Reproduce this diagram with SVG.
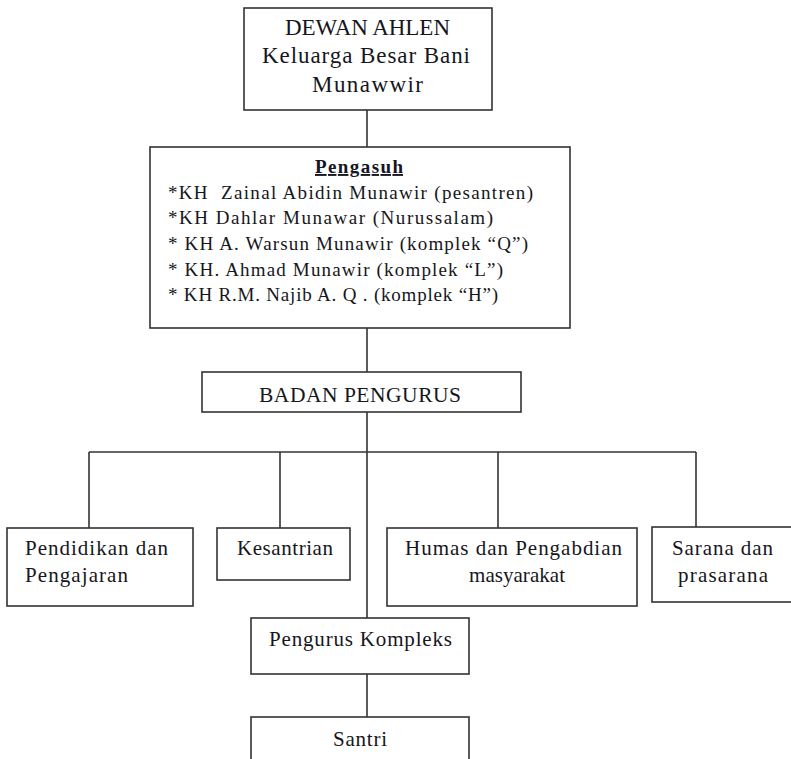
<svg xmlns="http://www.w3.org/2000/svg" width="791" height="759" viewBox="0 0 791 759">
<style>
.box{fill:#fff;stroke:#333;stroke-width:1.6}
.ln{stroke:#333;stroke-width:1.6;fill:none}
text{font-family:"Liberation Serif","DejaVu Serif",serif;fill:#161620;white-space:pre}
.t22{font-size:23px}
.t21{font-size:21.5px}
.t20{font-size:21px}
.t18{font-size:19px}
</style>
<rect width="791" height="759" fill="#fff"/>
<g id="connectors">
<line class="ln" x1="367" y1="110" x2="367" y2="147"/>
<line class="ln" x1="367" y1="328" x2="367" y2="372"/>
<line class="ln" x1="367" y1="412" x2="367" y2="618"/>
<line class="ln" x1="89" y1="452" x2="696" y2="452"/>
<line class="ln" x1="89" y1="452" x2="89" y2="528"/>
<line class="ln" x1="280" y1="452" x2="280" y2="528"/>
<line class="ln" x1="498" y1="452" x2="498" y2="528"/>
<line class="ln" x1="696" y1="452" x2="696" y2="527"/>
<line class="ln" x1="367" y1="674" x2="367" y2="717"/>
</g>
<g id="dewan">
<rect class="box" x="244" y="8" width="248" height="102"/>
<text class="t22" x="285" y="35" textLength="165">DEWAN AHLEN</text>
<text class="t22" x="262" y="63" textLength="208">Keluarga Besar Bani</text>
<text class="t22" x="312" y="92" textLength="111">Munawwir</text>
</g>
<g id="pengasuh">
<rect class="box" x="150" y="147" width="420" height="181"/>
<text class="t18" x="315" y="173" textLength="88" font-weight="bold" text-decoration="underline">Pengasuh</text>
<text class="t18" x="168" y="199" textLength="365">*KH  Zainal Abidin Munawir (pesantren)</text>
<text class="t18" x="168" y="224" textLength="325">*KH Dahlar Munawar (Nurussalam)</text>
<text class="t18" x="168" y="250" textLength="360">* KH A. Warsun Munawir (komplek “Q”)</text>
<text class="t18" x="168" y="276" textLength="335">* KH. Ahmad Munawir (komplek “L”)</text>
<text class="t18" x="168" y="301" textLength="330">* KH R.M. Najib A. Q . (komplek “H”)</text>
</g>
<g id="badan">
<rect class="box" x="202" y="372" width="319" height="40"/>
<text class="t21" x="259" y="402" textLength="202">BADAN PENGURUS</text>
</g>
<g id="pendidikan">
<rect class="box" x="7" y="528" width="186" height="78"/>
<text class="t20" x="25" y="555" textLength="143">Pendidikan dan</text>
<text class="t20" x="25" y="582" textLength="103">Pengajaran</text>
</g>
<g id="kesantrian">
<rect class="box" x="217" y="528" width="133" height="52"/>
<text class="t20" x="237" y="555" textLength="96">Kesantrian</text>
</g>
<g id="humas">
<rect class="box" x="387" y="528" width="250" height="78"/>
<text class="t20" x="405" y="555" textLength="217">Humas dan Pengabdian</text>
<text class="t20" x="469" y="582" textLength="96">masyarakat</text>
</g>
<g id="sarana">
<rect class="box" x="652" y="527" width="140" height="75"/>
<text class="t20" x="672" y="555" textLength="101">Sarana dan</text>
<text class="t20" x="678" y="582" textLength="90">prasarana</text>
</g>
<g id="kompleks">
<rect class="box" x="251" y="618" width="218" height="56"/>
<text class="t20" x="269" y="646" textLength="183">Pengurus Kompleks</text>
</g>
<g id="santri">
<rect class="box" x="251" y="717" width="218" height="60"/>
<text class="t20" x="333" y="746" textLength="54">Santri</text>
</g>
</svg>
